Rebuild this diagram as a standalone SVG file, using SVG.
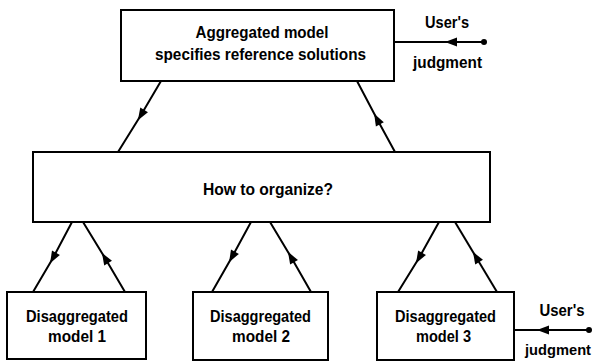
<svg xmlns="http://www.w3.org/2000/svg" width="597" height="362" viewBox="0 0 597 362">
<style>
  .box { fill: #fff; stroke: #000; stroke-width: 2; }
  .t { font-family: "Liberation Sans", Arial, sans-serif; font-weight: bold; font-size: 16px; fill: #000; text-anchor: middle; }
  .c { fill: none; stroke: #000; stroke-width: 2; marker-mid: url(#ah); }
</style>
<defs>
  <marker id="ah" viewBox="-7 -5 14 10" refX="0" refY="0" markerWidth="14" markerHeight="10" markerUnits="userSpaceOnUse" orient="auto">
    <path d="M-6,-4.5 L6,0 L-6,4.5 z" fill="#000"/>
  </marker>
</defs>
<g id="connectors">
  <path class="c" d="M161,81 L141,115 L118,152"/>
  <path class="c" d="M395,152 L377,119 L357,81"/>
  <path class="c" d="M72,222 L53,258 L33,292"/>
  <path class="c" d="M125,292 L105,258 L83,222"/>
  <path class="c" d="M251,222 L232,257 L212,292"/>
  <path class="c" d="M311,292 L291,257 L270,222"/>
  <path class="c" d="M439,222 L419,258 L398,292"/>
  <path class="c" d="M497,292 L476,257 L455,222"/>
  <path class="c" d="M484,42 L451,42 L394,42"/>
  <circle cx="484" cy="42" r="3" fill="#000"/>
  <path class="c" d="M589,330 L543,330 L514,330"/>
  <circle cx="589" cy="330" r="3" fill="#000"/>
</g>
<g id="aggregated">
  <rect class="box" x="121" y="10" width="273" height="71"/>
  <text class="t" x="262" y="38" textLength="133" lengthAdjust="spacingAndGlyphs">Aggregated model</text>
  <text class="t" x="260.5" y="60" textLength="211" lengthAdjust="spacingAndGlyphs">specifies reference solutions</text>
</g>
<g id="judgment1">
  <text class="t" x="447" y="28" textLength="44" lengthAdjust="spacingAndGlyphs">User's</text>
  <text class="t" x="447.5" y="68" textLength="69" lengthAdjust="spacingAndGlyphs">judgment</text>
</g>
<g id="organize">
  <rect class="box" x="33" y="152" width="457" height="70"/>
  <text class="t" x="268" y="195" textLength="130" lengthAdjust="spacingAndGlyphs">How to organize?</text>
</g>
<g id="dis1">
  <rect class="box" x="7" y="292" width="139" height="67"/>
  <text class="t" x="77" y="322" textLength="102" lengthAdjust="spacingAndGlyphs">Disaggregated</text>
  <text class="t" x="77" y="342" textLength="58" lengthAdjust="spacingAndGlyphs">model 1</text>
</g>
<g id="dis2">
  <rect class="box" x="193" y="292" width="135" height="68"/>
  <text class="t" x="260.5" y="322" textLength="101" lengthAdjust="spacingAndGlyphs">Disaggregated</text>
  <text class="t" x="261" y="342" textLength="58" lengthAdjust="spacingAndGlyphs">model 2</text>
</g>
<g id="dis3">
  <rect class="box" x="377" y="292" width="137" height="68"/>
  <text class="t" x="445.5" y="322" textLength="101" lengthAdjust="spacingAndGlyphs">Disaggregated</text>
  <text class="t" x="443.5" y="342" textLength="55" lengthAdjust="spacingAndGlyphs">model 3</text>
</g>
<g id="judgment2">
  <text class="t" x="562" y="316" textLength="45" lengthAdjust="spacingAndGlyphs">User's</text>
  <text class="t" x="558" y="355" style="font-size:15px" textLength="66" lengthAdjust="spacingAndGlyphs">judgment</text>
</g>
</svg>
